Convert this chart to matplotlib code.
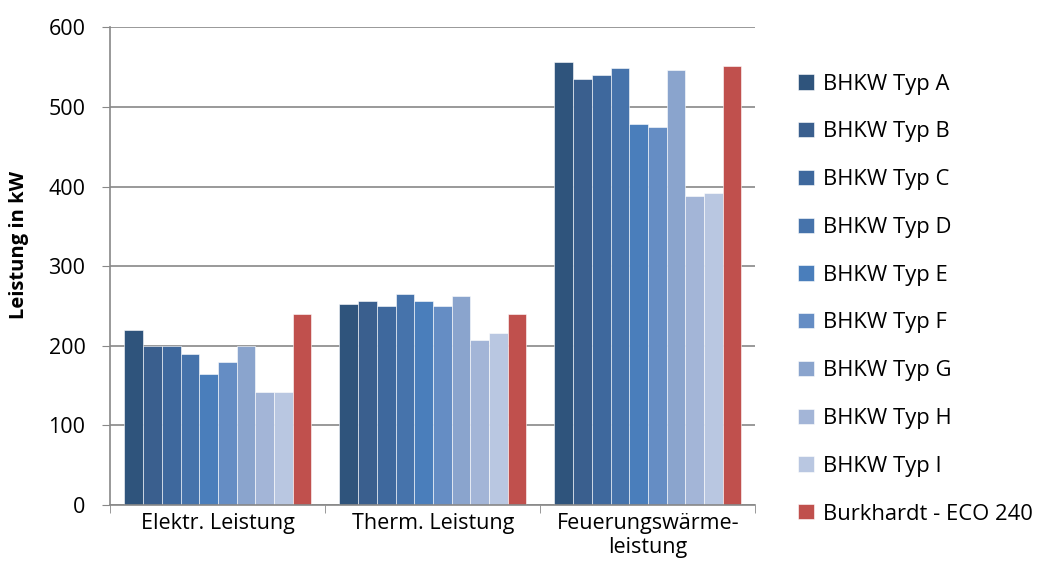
import matplotlib.pyplot as plt
import numpy as np

plt.rcParams['font.family'] = ['Open Sans', 'DejaVu Sans']

categories = ['Elektr. Leistung', 'Therm. Leistung', 'Feuerungswärme-\nleistung']
series = ['BHKW Typ A', 'BHKW Typ B', 'BHKW Typ C', 'BHKW Typ D', 'BHKW Typ E',
          'BHKW Typ F', 'BHKW Typ G', 'BHKW Typ H', 'BHKW Typ I', 'Burkhardt - ECO 240']
values = [
    [220, 253, 556],  # A
    [200, 256, 535],  # B
    [200, 250, 540],  # C
    [190, 265, 549],  # D
    [165, 256, 479],  # E
    [180, 250, 475],  # F
    [200, 263, 546],  # G
    [142, 207, 388],  # H
    [142, 216, 392],  # I
    [240, 240, 552],  # Burkhardt
]
colors = ['#2F547C', '#3A5F8E', '#3E689D', '#4673AB', '#4A7EBB',
          '#658DC4', '#8AA4CD', '#A3B5D7', '#B9C7E1', '#C0504D']

fig, ax = plt.subplots(figsize=(10.42, 5.83), dpi=100)
fig.subplots_adjust(left=0.106, right=0.725, top=0.953, bottom=0.134)

x = np.arange(len(categories))
w = 1 / 11.5
for i, (name, vals) in enumerate(zip(series, values)):
    ax.bar(x + (i - 4.5) * w, vals, w, color=colors[i], label=name,
           edgecolor='#ffffff', linewidth=0.4, zorder=2)

ax.set_xlim(-0.5, 2.5)
ax.set_ylim(0, 600)
ax.set_yticks(range(0, 601, 100))
ax.set_xticks(x)
ax.set_xticklabels(categories, fontsize=15.5)
ax.tick_params(axis='x', length=0, pad=6)
ax.set_xticks([-0.5, 0.5, 1.5, 2.5], minor=True)
ax.tick_params(axis='x', which='minor', length=6, color='#888888')
ax.tick_params(axis='y', labelsize=15.5, length=6, color='#888888', pad=12)
ax.grid(axis='y', color='#888888', linewidth=1.2, zorder=0)
ax.set_axisbelow(True)
for s in ['top', 'right']:
    ax.spines[s].set_visible(False)
for s in ['left', 'bottom']:
    ax.spines[s].set_color('#888888')
    ax.spines[s].set_linewidth(1.2)
ax.set_ylabel('Leistung in kW', fontsize=14.5, fontweight='bold')
ax.yaxis.set_label_coords(-0.126, 0.544)

ax.legend(loc='center left', bbox_to_anchor=(1.053, 0.431), frameon=False,
          fontsize=15.8, handlelength=0.69, handleheight=0.69, handletextpad=0.45,
          labelspacing=1.22, borderaxespad=0)

plt.savefig('out.png')
